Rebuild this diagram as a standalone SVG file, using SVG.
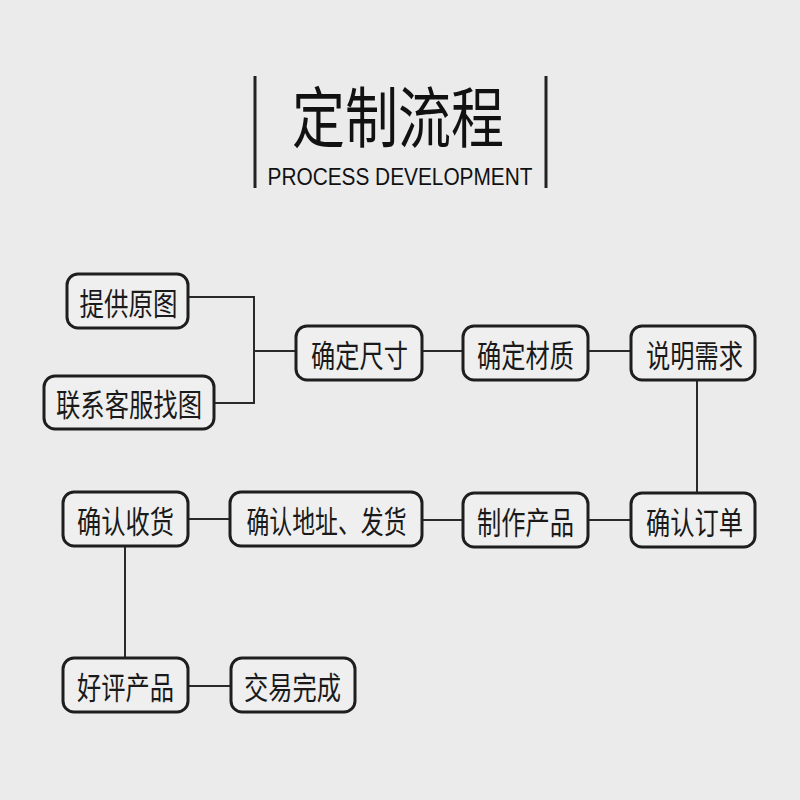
<svg xmlns="http://www.w3.org/2000/svg" width="800" height="800" viewBox="0 0 800 800">
<style>
.n rect{fill:#efefef;stroke:#1e1e1e;stroke-width:3}
.n text{font-family:"Noto Sans CJK SC","Noto Sans",sans-serif;font-size:31px;fill:#1a1a1a;text-anchor:middle;dominant-baseline:central}
.c path{fill:none;stroke:#2a2a2a;stroke-width:2}
</style>
<rect width="800" height="800" fill="#ebebeb"/>
<g id="title">
<line x1="255" y1="76" x2="255" y2="188" stroke="#222" stroke-width="3"/>
<line x1="546" y1="76" x2="546" y2="188" stroke="#222" stroke-width="3"/>
<text x="398" y="113" font-family="Noto Sans CJK SC,sans-serif" font-size="66" fill="#111" text-anchor="middle" dominant-baseline="central" textLength="212" lengthAdjust="spacingAndGlyphs">定制流程</text>
<text x="400" y="185" font-family="Liberation Sans,Arial,sans-serif" font-size="24" fill="#111" text-anchor="middle" textLength="265" lengthAdjust="spacingAndGlyphs">PROCESS DEVELOPMENT</text>
</g>
<g class="c" id="connectors">
<path d="M188 297H254V403H214"/>
<path d="M254 351H296"/>
<path d="M422 351H463"/>
<path d="M588 351H631"/>
<path d="M697 380V493"/>
<path d="M631 520H588"/>
<path d="M463 520H422"/>
<path d="M230 519H188"/>
<path d="M125 546V658"/>
<path d="M188 686H231"/>
</g>
<g class="n" id="n1"><rect x="67" y="274" width="121" height="54" rx="11"/><text x="128.5" y="301" textLength="98" lengthAdjust="spacingAndGlyphs">提供原图</text></g>
<g class="n" id="n2"><rect x="44" y="376" width="170" height="53" rx="11"/><text x="129" y="402.5" textLength="146" lengthAdjust="spacingAndGlyphs">联系客服找图</text></g>
<g class="n" id="n3"><rect x="296" y="326" width="126" height="54" rx="11"/><text x="359.5" y="353" textLength="97" lengthAdjust="spacingAndGlyphs">确定尺寸</text></g>
<g class="n" id="n4"><rect x="463" y="326" width="125" height="54" rx="11"/><text x="525.5" y="353" textLength="97" lengthAdjust="spacingAndGlyphs">确定材质</text></g>
<g class="n" id="n5"><rect x="631" y="326" width="124" height="54" rx="11"/><text x="694.5" y="353" textLength="97" lengthAdjust="spacingAndGlyphs">说明需求</text></g>
<g class="n" id="n6"><rect x="631" y="493" width="124" height="54" rx="11"/><text x="694.5" y="520" textLength="97" lengthAdjust="spacingAndGlyphs">确认订单</text></g>
<g class="n" id="n7"><rect x="463" y="493" width="125" height="54" rx="11"/><text x="525.5" y="520" textLength="97" lengthAdjust="spacingAndGlyphs">制作产品</text></g>
<g class="n" id="n8"><rect x="230" y="492" width="192" height="54" rx="11"/><text x="326.5" y="519" textLength="160" lengthAdjust="spacingAndGlyphs">确认地址、发货</text></g>
<g class="n" id="n9"><rect x="63" y="492" width="125" height="54" rx="11"/><text x="125.5" y="519" textLength="97" lengthAdjust="spacingAndGlyphs">确认收货</text></g>
<g class="n" id="n10"><rect x="63" y="658" width="125" height="54" rx="11"/><text x="125.5" y="685" textLength="97" lengthAdjust="spacingAndGlyphs">好评产品</text></g>
<g class="n" id="n11"><rect x="231" y="658" width="124" height="54" rx="11"/><text x="292.5" y="685" textLength="97" lengthAdjust="spacingAndGlyphs">交易完成</text></g>
</svg>
